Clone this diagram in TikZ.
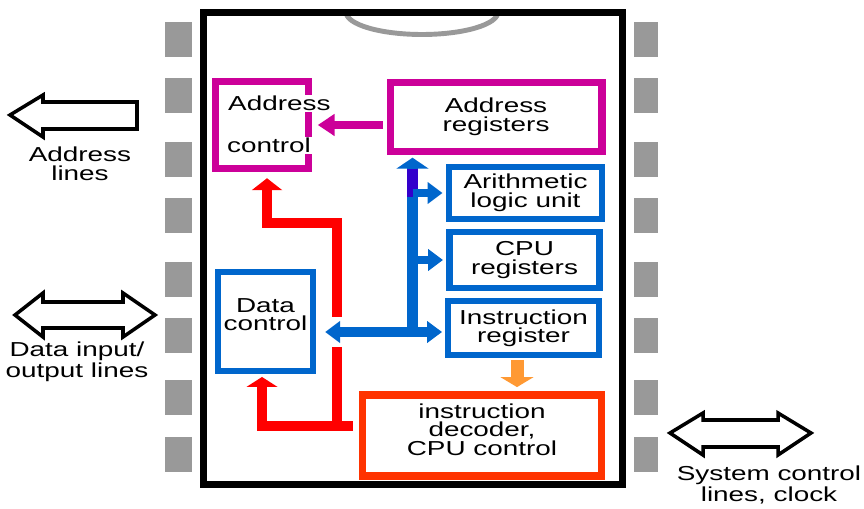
\documentclass[tikz,border=0pt]{standalone}
\usepackage{fontspec}
\setmainfont{Liberation Sans}[FakeStretch=1.38]
\usepackage{tikz}
\usetikzlibrary{positioning,arrows.meta,calc}
\definecolor{cGray}{HTML}{999999}
\definecolor{cMag}{HTML}{CC0099}
\definecolor{cBlue}{HTML}{0066CC}
\definecolor{cRed}{HTML}{FF0000}
\definecolor{cDec}{HTML}{FF3300}
\definecolor{cOrange}{HTML}{FF9933}
\definecolor{cPurple}{HTML}{3300CC}
\tikzset{
  chipbox/.style={draw, line width=4pt, outer sep=0pt, minimum width=8.39cm, minimum height=9.46cm},
  pinbox/.style={fill=cGray},
  notch/.style={draw=cGray, line width=2.8pt},
  adrbox/.style={draw=cMag, line width=4pt, outer sep=0pt, align=center},
  unitbox/.style={draw=cBlue, line width=3.7pt, outer sep=0pt, align=center},
  decbox/.style={draw=cDec, line width=4pt, outer sep=0pt, align=center},
  cuttext/.style={fill=white, inner sep=0.5pt},
  hollow/.style={draw, fill=white, line width=2pt},
  txtlbl/.style={align=center},
  redbus/.style={draw=cRed, line width=5.7pt, -{Triangle[width=17pt,length=6.8pt]}},
  bluebus/.style={draw=cBlue, line width=6.5pt, -{Triangle[width=18pt,length=6.2pt]}},
  purpleseg/.style={draw=cPurple, line width=6.5pt},
  bluebranch/.style={draw=cBlue, line width=4.5pt, shorten >=3.7pt, -{Triangle[width=12pt,length=8.5pt]}},
  bluedata/.style={draw=cBlue, line width=5.4pt, {Triangle[width=12pt,length=8.5pt]}-{Triangle[width=12pt,length=8.5pt]}},
  magarrow/.style={draw=cMag, line width=4.5pt, -{Triangle[width=12pt,length=9.6pt]}},
  irarrow/.style={draw=cOrange, line width=7.4pt, -{Triangle[width=18.7pt,length=5.7pt]}}
}
\begin{document}
\begin{tikzpicture}[x=0.02cm, y=-0.02cm, every node/.style={font=\fontsize{11.5}{10.5}\selectfont}]
  \useasboundingbox (0,0) rectangle (864,509);
  \foreach \y in {22,78,142,198,262,318,380,437} {
    \fill[pinbox] (165,\y) rectangle +(27,35);
    \fill[pinbox] (634,\y) rectangle +(24,35);
  }
  \draw[notch] (346,12) arc[start angle=180, end angle=360, x radius=1.52cm, y radius=0.45cm];
  \node[chipbox] (chip) at (413.25,248.5) {};

  \node[adrbox, minimum width=1.85cm, minimum height=1.75cm] (adrctl) at (262,125) {};
  \node[adrbox, minimum width=4.24cm, minimum height=1.39cm] (adrreg) at (496,117) {Address\\registers};
  \node[unitbox, minimum width=3.06cm, minimum height=1.05cm] (alu) at (525.5,193) {Arithmetic\\logic unit};
  \node[unitbox, minimum width=3.0cm, minimum height=1.12cm] (cpureg) at (524.5,260) {CPU\\registers};
  \node[unitbox, minimum width=3.02cm, minimum height=1.09cm] (instr) at (523.5,328) {Instruction\\register};
  \node[unitbox, minimum width=1.78cm, minimum height=1.98cm, text depth=8pt] (datctl) at (265.5,321.5) {Data\\control};
  \node[decbox, minimum width=4.78cm, minimum height=1.62cm, text depth=6.8pt] (dec) at (482,435.5) {instruction\\decoder,\\CPU control};

  \coordinate (rj) at (337,426);
  \coordinate (rk) at (267,223);
  \coordinate (bus) at (412.5,332);
  \draw[redbus, shorten <=5.4pt, shorten >=3.4pt, -{Triangle[width=17.5pt,length=5.7pt]}] (dec.west |- rj) -| ($(datctl.south)+(-3.5,0)$);
  \draw[redbus, shorten >=5.4pt] (rj) |- (rk) -- (rk |- adrctl.south);
  \fill[white] ($(rj |- bus)+(-8,-15)$) rectangle ($(rj |- bus)+(8,15)$);

  \draw[bluedata, shorten <=6.8pt, shorten >=3.4pt] (datctl.east |- bus) -- (instr.west |- bus);
  \draw[bluebus, shorten >=3.4pt] ($(bus)+(0,5)$) -- (bus |- adrreg.south);
  \draw[purpleseg] ($(bus |- adrreg.south)+(0,17)$) -- ($(bus |- adrreg.south)+(0,45)$);
  \foreach \u in {alu,cpureg}
    \draw[bluebranch] (bus |- \u.west) -- (\u.west);
  \draw[magarrow, shorten <=4pt, shorten >=5.4pt] (adrctl.east -| adrreg.west) -- (adrctl.east);
  \draw[irarrow, shorten <=2.6pt, shorten >=4.5pt] ($(instr.south)+(-6.5,0)$) -- ($(instr.south |- dec.north)+(-6.5,0)$);

  \node[cuttext, anchor=base west] (adrctlA) at (227,111) {Address};
  \node[cuttext, anchor=base west] (adrctlB) at (226,153) {control};

  \draw[hollow] (10,115) -- (43,95) -- (43,102) -- (137,102) -- (137,129) -- (43,129) -- (43,137) -- cycle;
  \draw[hollow] (15,315) -- (43,293) -- (43,302) -- (123,302) -- (123,293) -- (155,315) -- (123,337) -- (123,328) -- (43,328) -- (43,337) -- cycle;
  \draw[hollow] (670,433) -- (703,413) -- (703,420) -- (778,420) -- (778,413) -- (811,433) -- (778,455) -- (778,447) -- (703,447) -- (703,455) -- cycle;
  \node[txtlbl] (adrlines) at (80,164) {Address\\lines};
  \node[txtlbl] (datlines) at (77,362) {Data input/\\output lines};
  \node[txtlbl] (syslines) at (769,485) {System control\\lines, clock};
\end{tikzpicture}
\end{document}
